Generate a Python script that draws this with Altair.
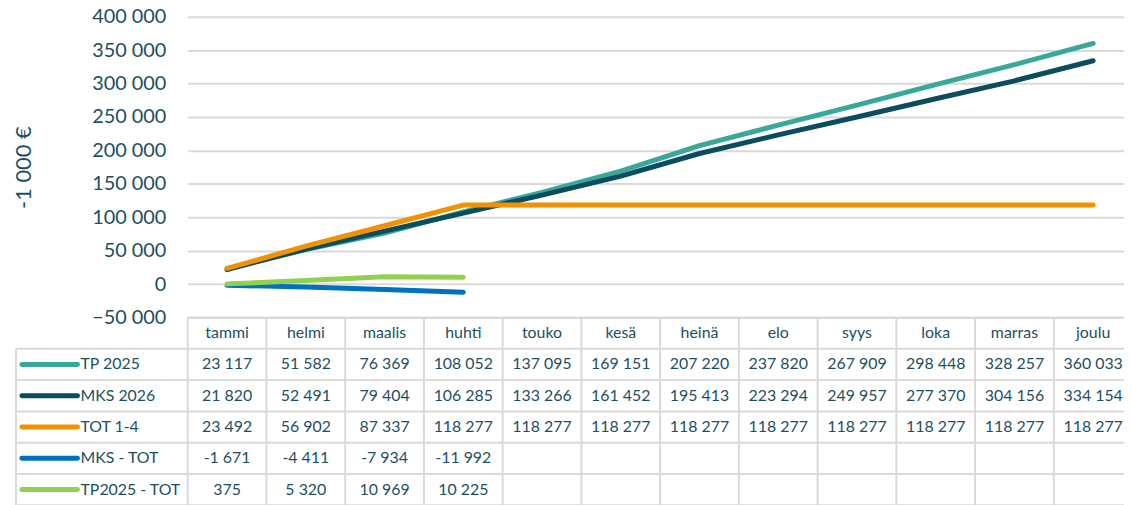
import altair as alt
import pandas as pd

# ---------------- data ----------------
months = ["tammi", "helmi", "maalis", "huhti", "touko", "kesä",
          "heinä", "elo", "syys", "loka", "marras", "joulu"]
series_names = ["TP 2025", "MKS 2026", "TOT 1-4", "MKS - TOT", "TP2025 - TOT"]
tp2025 = [23117, 51582, 76369, 108052, 137095, 169151, 207220, 237820, 267909, 298448, 328257, 360033]
mks2026 = [21820, 52491, 79404, 106285, 133266, 161452, 195413, 223294, 249957, 277370, 304156, 334154]
tot14 = [23492, 56902, 87337, 118277, 118277, 118277, 118277, 118277, 118277, 118277, 118277, 118277]
mks_tot = [-1671, -4411, -7934, -11992]
tp_tot = [375, 5320, 10969, 10225]
series_colors = ["#38A899", "#0B4C5E", "#F39200", "#0070C0", "#92D050"]
y_ticks = [-50000, 0, 50000, 100000, 150000, 200000, 250000, 300000, 350000, 400000]
y_title = "-1 000 €"

series_values = [tp2025, mks2026, tot14, mks_tot, tp_tot]

# ---------------- layout ----------------
FONT = "Lato"
TXT = "#1D4F61"
GRID = "#D9D9D9"
COL_W = 79.3                 # px per month column
X_RANGE = [0, 12 * COL_W]
LINE_Y_RANGE = [303, 0]      # px for -50 000 .. 400 000
TABLE_Y_RANGE = [303, 492]   # px for table rows 0..6
LEG_L = -173 / COL_W         # legend column left edge (col units)
SW_A = LEG_L + 6 / COL_W
SW_B = LEG_L + 62 / COL_W
LEG_T = LEG_L + 65 / COL_W

xs = alt.Scale(domain=[0, 12], range=X_RANGE, zero=False, nice=False)
ts = alt.Scale(domain=[0, 6], range=TABLE_Y_RANGE, zero=False, nice=False)
color_scale = alt.Scale(domain=series_names, range=series_colors)


def fmt(v):
    return f"{v:,}".replace(",", " ")


# line data (long form, drawn in series order)
rows = []
for name, vals in zip(series_names, series_values):
    for i, v in enumerate(vals):
        rows.append({"xc": i + 0.5, "value": v, "series": name})
line_df = pd.DataFrame(rows)

yaxis = alt.Axis(orient="left", values=y_ticks,
                 labelExpr="replace(format(datum.value, ',d'), ',', ' ')",
                 title=y_title, titleFont=FONT, titleFontSize=22, titleFontWeight="normal",
                 titleColor=TXT, titlePadding=57, labelFont=FONT, labelFontSize=20,
                 labelColor=TXT, labelPadding=22, ticks=False, domain=False,
                 grid=True, gridColor=GRID, gridWidth=2)
lines = alt.Chart(line_df).mark_line(strokeWidth=5, strokeCap="round", strokeJoin="round").encode(
    x=alt.X("xc:Q", scale=xs, axis=None),
    y=alt.Y("value:Q", scale=alt.Scale(domain=[-50000, 400000], range=LINE_Y_RANGE, zero=False, nice=False),
            axis=yaxis),
    color=alt.Color("series:N", scale=color_scale, legend=None),
)

# table grid
rules = []
for j in range(13):
    rules.append({"x": j, "x2": j, "y": 0, "y2": 6})
rules.append({"x": LEG_L, "x2": LEG_L, "y": 1, "y2": 6})
rules.append({"x": 0, "x2": 12, "y": 0, "y2": 0})
for r in range(1, 7):
    rules.append({"x": LEG_L, "x2": 12, "y": r, "y2": r})
grid_df = pd.DataFrame(rules)
grid = alt.Chart(grid_df).mark_rule(color=GRID, strokeWidth=2).encode(
    x=alt.X("x:Q", scale=xs, axis=None), x2="x2:Q",
    y=alt.Y("y:Q", scale=ts, axis=None), y2="y2:Q",
)

# header
head_df = pd.DataFrame({"x": [i + 0.5 for i in range(12)], "y": [0.5] * 12, "t": months})
head = alt.Chart(head_df).mark_text(font=FONT, fontSize=16, color=TXT, baseline="middle", align="center").encode(
    x=alt.X("x:Q", scale=xs, axis=None), y=alt.Y("y:Q", scale=ts, axis=None), text="t:N")

# cells
cells = []
for r, vals in enumerate(series_values, start=1):
    for i, v in enumerate(vals):
        cells.append({"x": i + 0.5, "y": r + 0.5, "t": fmt(v)})
cell_df = pd.DataFrame(cells)
cell = alt.Chart(cell_df).mark_text(font=FONT, fontSize=16, color=TXT, baseline="middle", align="center").encode(
    x=alt.X("x:Q", scale=xs, axis=None), y=alt.Y("y:Q", scale=ts, axis=None), text="t:N")

# legend swatches and labels
leg_df = pd.DataFrame({"series": series_names, "y": [r + 1.5 for r in range(5)],
                       "xa": [SW_A] * 5, "xb": [SW_B] * 5, "xt": [LEG_T] * 5})
sw = alt.Chart(leg_df).mark_rule(strokeWidth=5, strokeCap="round").encode(
    x=alt.X("xa:Q", scale=xs, axis=None), x2="xb:Q",
    y=alt.Y("y:Q", scale=ts, axis=None),
    color=alt.Color("series:N", scale=color_scale, legend=None))
legtxt = alt.Chart(leg_df).mark_text(font=FONT, fontSize=16, color=TXT, baseline="middle", align="left").encode(
    x=alt.X("xt:Q", scale=xs, axis=None), y=alt.Y("y:Q", scale=ts, axis=None), text="series:N")

chart = alt.layer(lines, grid, head, cell, sw, legtxt).resolve_scale(y="independent").properties(
    width=943, height=492,
    padding={"left": 181, "top": 7, "right": 0, "bottom": 0},
    autosize=alt.AutoSizeParams(type="none"),
    background="white",
).configure_view(stroke=None)

chart.save("out.html", embed_options={"renderer": "svg", "actions": False})
